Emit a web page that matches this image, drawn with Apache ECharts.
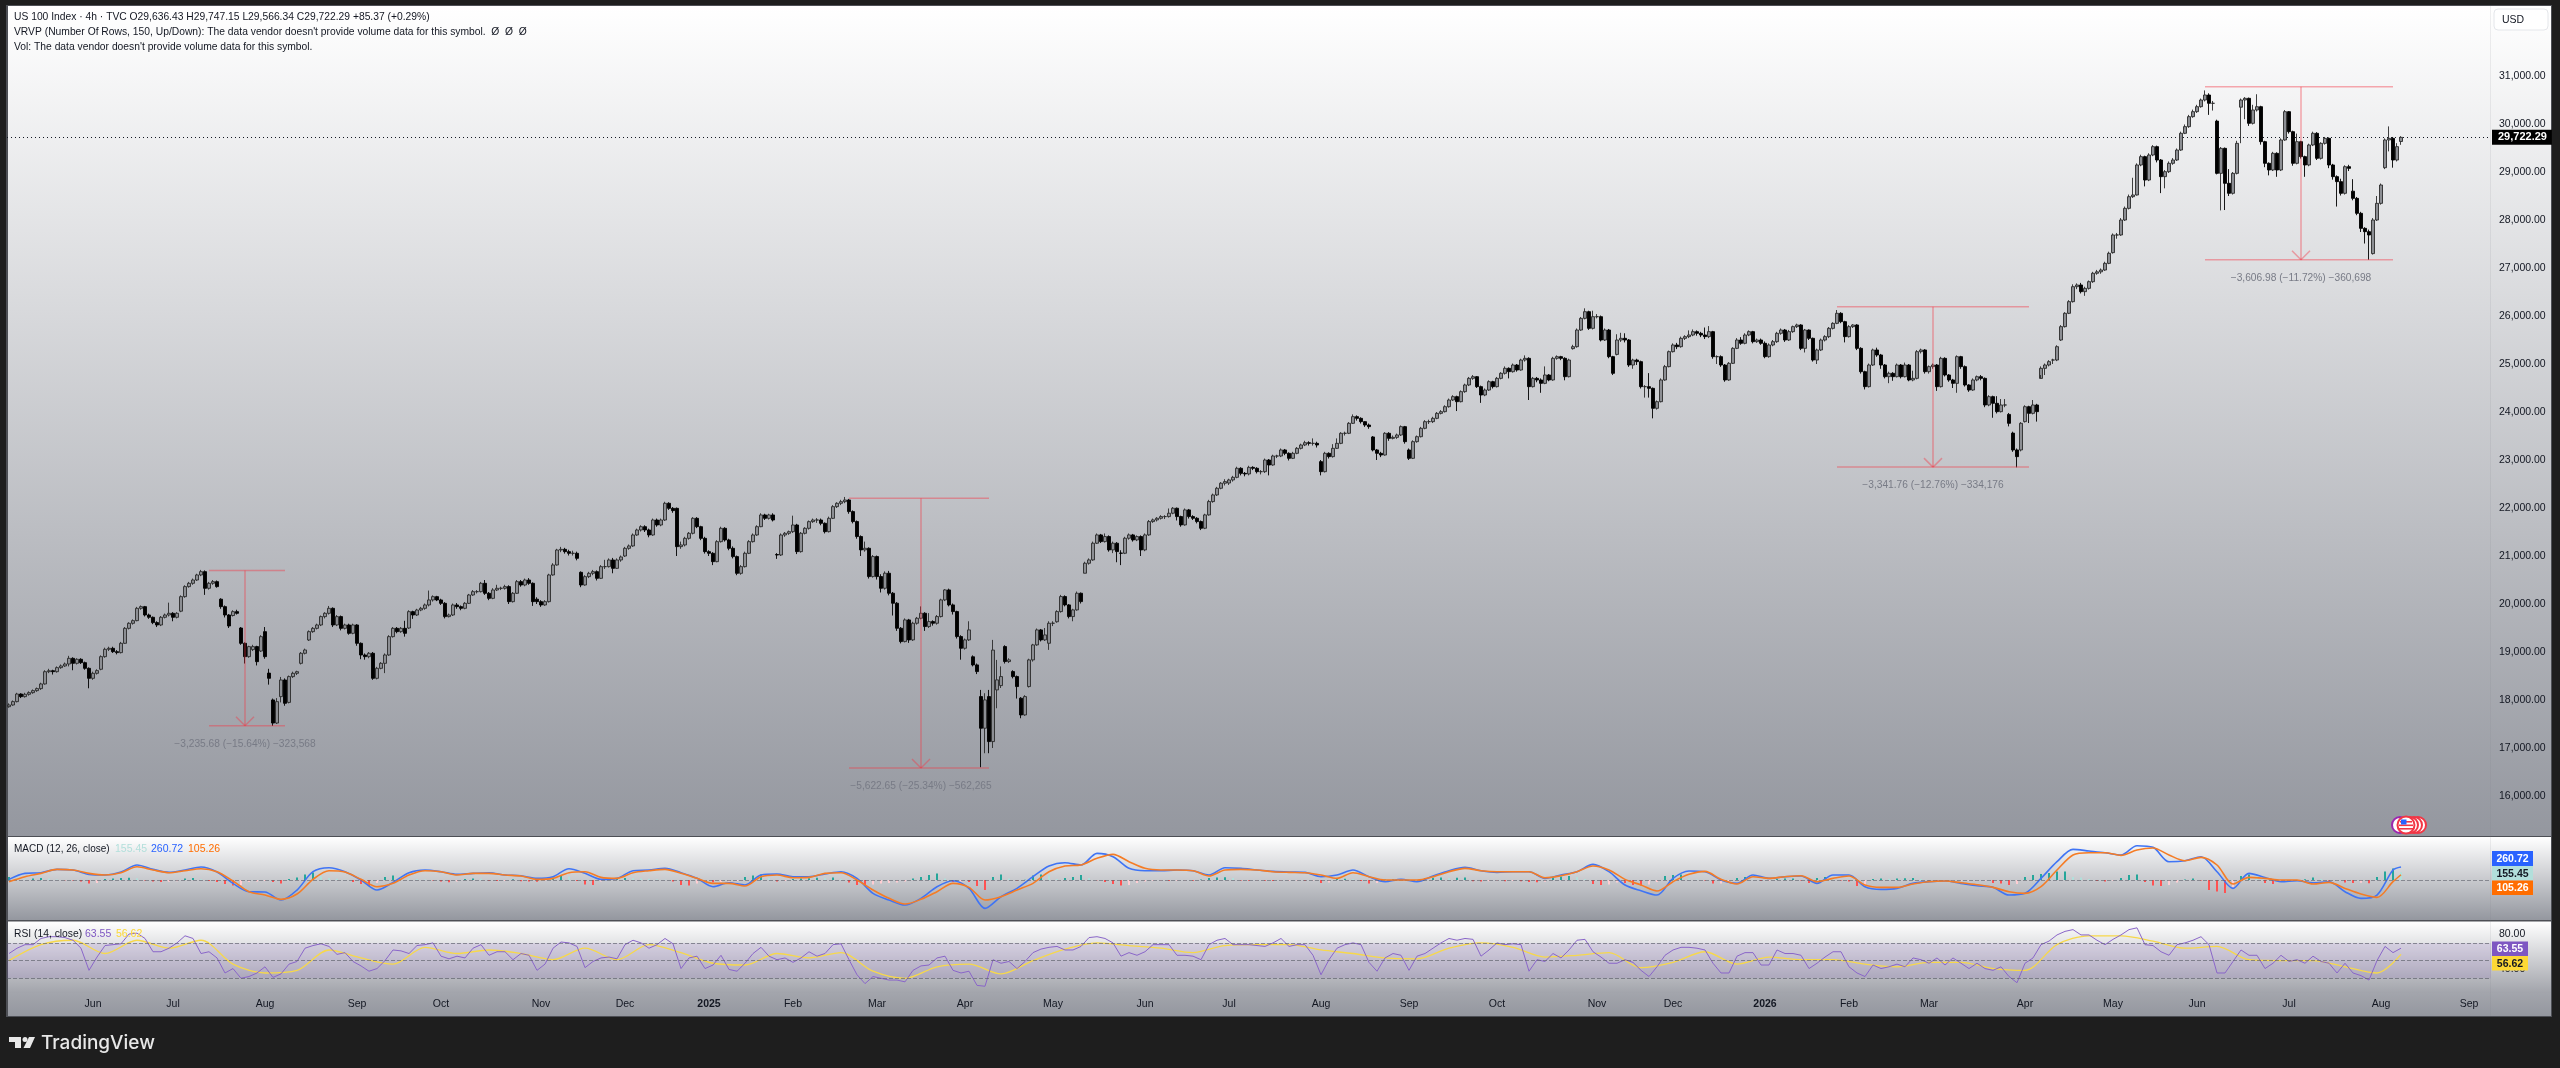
<!DOCTYPE html>
<html><head><meta charset="utf-8"><style>html,body{margin:0;padding:0;background:#1e1e1e}#c{width:2560px;height:1068px}</style>
<script src="https://cdn.jsdelivr.net/npm/echarts@6/dist/echarts.min.js"></script></head><body><div id="c"></div><script>
// each row: open, close, low, high
const barsMay24=[[17860,17896,17840,17930],[17896,17966,17880,17990],[17966,18125,17950,18150],[18125,18070,18040,18140],[18070,18119,18050,18150],[18119,18153,18090,18180],[18153,18195,18130,18220],[18195,18237,18170,18260],[18237,18334,18210,18360],[18334,18590,18320,18620],[18590,18610,18560,18650],[18610,18590,18530,18630],[18590,18674,18570,18700],[18674,18709,18650,18740],[18709,18750,18690,18780],[18750,18868,18700,18920],[18868,18764,18620,18890],[18764,18848,18740,18870],[18848,18778,18750,18870],[18778,18660,18630,18800],[18660,18452,18244,18680]];
const barsJun24=[[18452,18556,18420,18590],[18556,18612,18530,18640],[18640,18903,18620,18930],[18903,19056,18880,19090],[19056,19077,19020,19110],[19077,19007,18980,19110],[19007,18987,18950,19040],[18987,19181,18970,19210],[19181,19493,19170,19520],[19493,19598,19470,19620],[19598,19653,19570,19680],[19653,19910,19640,19940],[19910,19945,19880,19970],[19945,19771,19740,19960],[19771,19723,19690,19800],[19723,19612,19580,19740],[19612,19563,19520,19640],[19563,19723,19540,19750],[19723,19771,19700,19800],[19771,19806,19740,20028]];
const barsJul24=[[19806,19723,19640,19830],[19723,19806,19700,19830],[19850,20153,19830,20180],[20153,20362,20130,20390],[20362,20431,20340,20460],[20431,20500,20400,20530],[20500,20605,20480,20630],[20605,20674,20580,20710],[20674,20327,20190,20700],[20327,20431,20300,20460],[20431,20466,20400,20500],[20466,20362,20340,20490],[20100,19945,19900,20120],[19945,19771,19720,19970],[19771,19542,19500,19790],[19760,19841,19740,19870],[19841,19806,19780,19880],[19500,19181,19150,19520],[19181,18903,18760,19200],[18903,19112,18880,19130],[19050,19112,19020,19150],[19112,18799,18720,19130],[19020,19320,19000,19350]];
const barsAug24=[[19424,18903,18860,19520],[18560,18452,18320,18650],[18001,17520,17459,18030],[17520,17966,17500,18040],[18070,18417,17950,18480],[18417,17931,17880,18450],[17950,18487,17930,18510],[18487,18556,18460,18590],[18556,18590,18520,18610],[18764,18973,18740,19000],[18973,19042,18950,19070],[19250,19424,19230,19450],[19424,19493,19400,19520],[19493,19563,19470,19590],[19563,19737,19540,19760],[19737,19806,19700,19830],[19806,19910,19780,19959],[19910,19563,19520,19930],[19563,19737,19540,19770],[19737,19493,19450,19760],[19493,19563,19470,19590],[19563,19389,19360,19590],[19389,19563,19370,19590]];
const barsSep24=[[19563,19181,19130,19580],[19181,18938,18850,19200],[18938,18903,18840,18970],[18903,18973,18870,19000],[18973,18452,18420,19000],[18452,18660,18430,18690],[18660,18764,18640,18790],[18764,18938,18560,18970],[18938,19320,18920,19350],[19320,19493,19300,19520],[19493,19424,19390,19520],[19424,19493,19400,19520],[19493,19389,19320,19650],[19500,19841,19480,19870],[19841,19771,19690,19860],[19771,19875,19750,19900],[19875,19910,19850,19940],[19910,19980,19880,20010],[19980,20084,19950,20280],[20084,20153,20050,20180],[20153,20084,20060,20170]];
const barsOct24=[[20084,20014,19980,20110],[20014,19737,19700,20040],[19737,19771,19720,19800],[19771,19980,19750,20010],[19980,19945,19900,20020],[19945,19910,19870,19970],[19910,20014,19890,20040],[20014,20188,20000,20210],[20188,20257,20170,20290],[20257,20257,20220,20290],[20257,20431,20240,20460],[20431,20223,20190,20500],[20223,20118,20080,20250],[20118,20292,20100,20330],[20292,20327,20270,20400],[20327,20327,20290,20360],[20327,20362,20300,20400],[20362,20049,20000,20390],[20049,20223,20030,20250],[20223,20466,20210,20500],[20466,20396,20360,20500],[20396,20500,20370,20530],[20500,20431,20400,20540],[20431,20049,19960,20450],[20100,20049,20000,20140]];
const barsNov24=[[20049,19980,19940,20080],[19980,20049,19960,20080],[20049,20605,20030,20630],[20605,20813,20590,20850],[20813,21125,20800,21150],[21125,21139,21080,21190],[21139,21091,21050,21170],[21091,21056,21010,21130],[21056,21056,21010,21110],[21056,20952,20910,21090],[20660,20396,20350,20680],[20396,20570,20380,20600],[20570,20639,20540,20670],[20639,20674,20600,20710],[20674,20535,20490,20700],[20535,20778,20520,20810],[20778,20778,20730,20920],[20778,20917,20760,20950],[20917,20743,20640,20960],[20743,20917,20730,20950],[20917,20980,20880,21010]];
const barsDec24=[[21000,21160,20980,21190],[21160,21209,21130,21240],[21209,21438,21190,21470],[21438,21542,21420,21570],[21542,21611,21510,21640],[21611,21542,21500,21640],[21542,21438,21390,21570],[21438,21750,21420,21780],[21750,21646,21610,21780],[21646,21750,21620,21780],[21750,22098,21730,22130],[22098,21993,21960,22120],[21993,21945,21900,22020],[21993,21195,21000,22010],[21195,21230,21150,21300],[21230,21368,21200,21400],[21368,21473,21340,21500],[21473,21785,21450,21810],[21785,21611,21580,21810],[21611,21368,21330,21630],[21368,21091,21050,21400]];
const barsJan25=[[21091,21056,21000,21120],[21056,20882,20810,21080],[20882,21299,20870,21330],[21299,21577,21280,21610],[21577,21334,21300,21600],[21334,21160,21120,21360],[21160,20987,20950,21200],[20987,20639,20600,21010],[20639,20778,20610,20810],[20778,21056,20760,21090],[21056,21299,21040,21330],[21299,21438,21280,21470],[21438,21611,21420,21640],[21611,21855,21600,21890],[21855,21785,21750,21880],[21785,21855,21760,21880],[21855,21750,21720,21890],[21030,21021,20940,21060],[21021,21438,21000,21470],[21438,21473,21400,21500],[21473,21507,21440,21530]];
const barsFeb25=[[21507,21646,21480,21840],[21646,21091,21040,21670],[21091,21473,21070,21500],[21473,21577,21450,21600],[21577,21716,21550,21740],[21716,21750,21690,21780],[21750,21750,21690,21790],[21750,21681,21640,21780],[21681,21507,21470,21700],[21507,21785,21490,21820],[21785,22028,21770,22060],[22028,22098,22000,22120],[22098,22132,22060,22170],[22132,22167,22100,22230],[22167,21925,21880,22190],[21925,21717,21680,21950],[21717,21405,21360,21740],[21405,21127,21000,21430],[21127,21161,21090,21300],[21161,20571,20530,21180],[20571,20988,20550,21020]];
const barsMar25=[[20988,20571,20510,21010],[20571,20328,20240,20620],[20328,20641,20300,20680],[20641,20224,20180,20690],[20224,20016,19760,20250],[20016,19495,19440,20040],[19495,19217,19180,19520],[19217,19668,19200,19700],[19668,19252,19190,19690],[19252,19599,19230,19630],[19599,19703,19570,19730],[19703,19807,19680,19950],[19807,19530,19440,19830],[19530,19634,19500,19810],[19634,19599,19550,19660],[19599,19738,19570,19770],[19738,20085,19720,20110],[20085,20293,20060,20310],[20293,19981,19950,20320],[19981,19842,19780,20010],[19842,19321,19280,19860],[19321,19078,18840,19350]];
const barsApr25=[[19078,19252,19050,19280],[19252,19460,19230,19640],[18900,18731,18700,18930],[18731,18592,18540,18760],[18071,17412,16599,18210],[17412,18002,16891,18141],[18071,17134,16891,18210],[17134,19040,17000,19252],[18210,18419,17828,18835],[18300,18488,18250,18700],[19113,18801,18760,19140],[18801,18835,18770,18870],[18592,18488,18450,18620],[18488,18280,18030,18510],[18037,17689,17620,18060],[17689,18071,17670,18100],[18280,18835,18260,18860],[18835,19148,18800,19170],[19148,19460,19130,19490],[19460,19252,19220,19480],[19252,19356,19230,19500],[19182,19599,19044,19640]];
const barsMay25=[[19599,19599,19540,19640],[19630,19842,19610,19870],[19842,20155,19820,20190],[20155,19981,19950,20180],[19981,19738,19700,20000],[19738,19877,19640,19900],[19877,20224,19860,20260],[20224,20050,20010,20240],[20641,20849,20640,20880],[20849,20918,20820,20950],[20918,21266,20900,21300],[21266,21439,21250,21470],[21439,21300,21270,21460],[21300,21405,21280,21470],[21405,21127,21090,21430],[21127,21266,21060,21300],[21266,21092,20870,21290],[21060,21057,20810,21120],[21057,21370,21040,21400],[21370,21439,21340,21470],[21439,21335,21300,21460],[21335,21405,21310,21430],[21405,21127,21000,21430]];
const barsJun25=[[21127,21439,21100,21470],[21439,21717,21420,21750],[21717,21752,21690,21780],[21752,21786,21720,21810],[21786,21821,21760,21850],[21821,21821,21770,21850],[21821,21891,21800,21990],[21891,21995,21870,22020],[21995,21821,21740,22010],[21821,21648,21610,21840],[21648,21960,21630,21990],[21960,21821,21780,21980],[21821,21786,21750,21850],[21786,21717,21680,21810],[21717,21578,21540,21740],[21578,21856,21560,21880],[21856,22134,21840,22170],[22134,22272,22110,22300],[22272,22411,22250,22440],[22411,22516,22390,22540],[22516,22550,22470,22600]];
const barsJul25=[[22520,22584,22480,22610],[22584,22639,22550,22670],[22639,22827,22620,22860],[22827,22722,22680,22850],[22722,22709,22660,22750],[22709,22847,22680,22880],[22847,22827,22790,22870],[22827,22757,22720,22850],[22757,22757,22700,22790],[22757,23000,22730,23030],[23000,22896,22680,23020],[22896,23083,22880,23110],[23083,23083,23040,23110],[23083,23209,23060,23240],[23209,23139,23100,23230],[23139,23035,22990,23160],[23035,23139,23020,23170],[23139,23243,23120,23270],[23243,23313,23220,23340],[23313,23361,23290,23400],[23361,23347,23300,23390],[23347,23347,23300,23450],[23347,23313,23260,23380]];
const barsAug25=[[22966,22757,22680,23000],[22757,23139,22740,23170],[23139,23070,23030,23160],[23070,23243,23050,23330],[23243,23347,23230,23450],[23347,23556,23330,23580],[23556,23556,23510,23590],[23556,23764,23540,23790],[23764,23903,23750,23950],[23903,23868,23820,23930],[23868,23799,23760,23890],[23799,23729,23690,23810],[23729,23695,23650,23760],[23480,23209,23180,23500],[23209,23139,23000,23230],[23139,23104,23060,23170],[23104,23556,23090,23580],[23556,23451,23400,23580],[23451,23472,23430,23510],[23472,23521,23440,23550],[23521,23695,23500,23720],[23695,23382,23340,23710]];
const barsSep25=[[23209,23035,23000,23240],[23035,23382,23020,23410],[23382,23486,23360,23510],[23486,23660,23470,23690],[23660,23799,23640,23830],[23799,23799,23750,23840],[23799,23868,23770,23900],[23868,23972,23850,24000],[23972,24007,23950,24040],[24007,24111,23990,24140],[24111,24250,24090,24280],[24250,24320,24230,24350],[24320,24215,24020,24340],[24215,24424,24200,24450],[24424,24563,24400,24590],[24563,24701,24540,24730],[24701,24736,24670,24770],[24736,24528,24500,24750],[24528,24354,24190,24550],[24354,24458,24330,24490],[24458,24632,24440,24660],[24632,24528,24490,24650]];
const barsOct25=[[24528,24701,24510,24730],[24701,24806,24680,24830],[24806,24910,24780,24950],[24910,24840,24700,24930],[24840,24979,24820,25010],[24979,24875,24840,25000],[24875,25083,24860,25110],[25083,25118,25050,25180],[25118,24528,24250,25140],[24528,24701,24510,24730],[24701,24667,24620,24730],[24667,24597,24400,24700],[24597,24771,24580,24950],[24771,24667,24640,24790],[24667,25118,24650,25150],[25118,25153,25090,25180],[25153,25118,25080,25170],[25118,24736,24660,25140],[24736,25083,24720,25110],[25320,25361,25300,25400],[25361,25708,25340,25740],[25708,25951,25690,25980],[25951,26090,25930,26160],[26090,25743,25710,26110],[25743,25986,25720,26110]];
const barsNov25=[[25986,25986,25950,26040],[25986,25500,25470,26010],[25500,25708,25480,25740],[25708,25153,25120,25730],[25153,24806,24770,25170],[25200,25500,25180,25620],[25500,25535,25460,25650],[25535,25500,25450,25640],[25500,24979,24940,25520],[24979,25083,24900,25110],[25083,25049,24980,25110],[25049,24528,24490,25070],[24528,24528,24300,24560],[24528,24493,24300,24810],[24493,24077,23868,24510],[24077,24215,24050,24240],[24215,24667,24200,24700],[24667,24945,24650,24980],[24945,25257,24930,25280]];
const barsDec25=[[25257,25396,25240,25430],[25396,25361,25310,25440],[25361,25535,25340,25570],[25535,25570,25500,25600],[25570,25604,25540,25700],[25604,25674,25580,25720],[25674,25639,25590,25700],[25639,25604,25560,25670],[25604,25570,25520,25760],[25570,25674,25540,25790],[25674,25153,25110,25690],[25153,25153,25000,25180],[25153,24979,24940,25180],[24979,24667,24630,25000],[24667,25014,24650,25040],[25014,25326,25000,25350],[25326,25500,25310,25540],[25500,25431,25400,25560],[25431,25604,25410,25640],[25604,25674,25580,25700],[25674,25465,25430,25690],[25465,25500,25440,25530],[25500,25431,25400,25530]];
const barsJan26=[[25431,25153,25120,25470],[25153,25396,25130,25430],[25396,25465,25370,25500],[25465,25639,25440,25670],[25639,25708,25610,25740],[25708,25500,25460,25730],[25500,25674,25480,25710],[25674,25778,25650,25800],[25778,25813,25750,25840],[25813,25326,25290,25830],[25326,25708,25240,25730],[25708,25535,25500,25720],[25535,25083,25050,25550],[25083,25292,25000,25320],[25292,25500,25270,25530],[25500,25570,25470,25600],[25570,25743,25540,25770],[25743,25847,25720,25870],[25847,26056,25830,26125],[26056,25882,25850,26080],[25882,25570,25450,25900]];
const barsFeb26=[[25570,25778,25550,25810],[25778,25813,25750,25830],[25813,25326,25290,25830],[25326,24840,24800,25350],[24840,24528,24470,24860],[24528,24979,24510,25010],[24979,25292,24960,25320],[25292,25188,25150,25340],[25188,24979,24900,25210],[24979,24736,24700,25000],[24736,24806,24600,24840],[24806,24736,24650,24830],[24736,24979,24720,25010],[24979,24736,24700,25000],[24736,24979,24720,25030],[24979,24667,24640,25000],[24667,24701,24640,24860],[24701,25257,24680,25290],[25257,25292,25220,25320],[25292,24840,24800,25310]];
const barsMar26=[[24840,24945,24800,24970],[24945,24979,24900,25010],[24979,24528,24440,25000],[24528,25118,24510,25150],[25118,24771,24740,25140],[24771,24667,24630,24790],[24667,24597,24500,24690],[24597,25153,24400,25180],[25153,24945,24900,25170],[24945,24563,24530,24970],[24563,24458,24420,24580],[24458,24667,24440,24700],[24667,24736,24640,24760],[24736,24701,24660,24770],[24701,24146,24100,24720],[24146,24320,24120,24350],[24320,24181,23880,24340],[24181,24007,23970,24330],[24007,24146,23990,24270],[24146,24146,24100,24270],[23950,23764,23700,23980],[23560,23209,23170,23590],[23209,23070,22847,23240],[23209,23764,23180,23790]];
const barsApr26=[[23800,24111,23780,24140],[24111,23972,23770,24130],[23972,24146,23950,24250],[24146,24007,23800,24170],[24700,24910,24770,24950],[24910,24979,24770,25010],[24979,25049,24950,25080],[25083,25083,25000,25110],[25083,25361,25060,25390],[25500,25778,25480,25810],[25778,26056,25760,26080],[26056,26299,26040,26330],[26299,26611,26280,26660],[26611,26646,26560,26680],[26646,26507,26470,26690],[26507,26576,26420,26610],[26576,26715,26550,26740],[26715,26890,26690,26920],[26890,26920,26860,26960],[26920,26958,26880,26990],[26958,27097,26940,27130],[27097,27306,27080,27340]];
const barsMay26=[[27320,27688,27300,27720],[27688,27688,27610,27730],[27688,28000,27670,28040],[28000,28243,27980,28280],[28243,28486,28220,28530],[28486,28521,28460,28880],[28521,29146,28510,29180],[29146,29320,29120,29360],[29320,28833,28700,29340],[28833,29354,28810,29390],[29354,29528,29330,29560],[29528,29250,29200,29550],[29250,28903,28560,29270],[28903,29007,28660,29040],[29007,29181,28980,29220],[29181,29250,29150,29290],[29250,29458,29230,29490],[29458,29806,29440,29840],[29806,29945,29790,29990],[29945,30153,29920,30190],[30153,30257,30130,30300]];
const barsJun26=[[30257,30361,30230,30400],[30361,30500,30340,30530],[30500,30604,30470,30700],[30604,30431,30190,30640],[30431,30431,30280,30480],[30060,28972,28950,30090],[28972,29493,28200,29520],[29493,28764,28208,29510],[28764,28556,28500,29060],[28556,28972,28530,29000],[28972,29597,28950,29650],[30350,30500,29600,30530],[30500,30535,30100,30560],[30535,30014,29960,30550],[30014,30292,29990,30400],[30292,30361,30260,30620],[30361,29632,29570,30380],[29632,29181,29100,29650],[29181,29042,28930,29200],[29042,29389,29020,29420],[29389,29042,28900,29410],[29042,29667,29020,29700],[29667,30257,29650,30290]];
const barsJul26=[[30257,29840,29800,30270],[29840,29181,29130,29860],[29181,29632,29160,29800],[29632,29320,29280,29650],[29320,29146,28900,29340],[29146,29563,29120,29590],[29563,29806,29540,29840],[29806,29285,29250,29830],[29285,29597,29260,29620],[29597,29701,29570,29730],[29701,29146,29080,29720],[29146,28903,28840,29170],[28903,28799,28280,28930],[28799,28556,28510,28860],[28556,29111,28530,29140],[29111,29076,29020,29150],[28600,28451,28410,28850],[28451,28139,28100,28480],[28139,27826,27750,28170],[27826,27757,27510,27850],[27757,27688,27171,27800],[27300,28000,27280,28040],[28000,28347,27980,28500]];
const barsAug26=[[28347,28729,28320,28760],[29090,29667,29060,29700],[29667,29701,29430,29950],[29701,29250,29090,29730],[29250,29528,29220,29600],[29636,29722,29566,29747]];
const monthBars=[barsMay24,barsJun24,barsJul24,barsAug24,barsSep24,barsOct24,barsNov24,barsDec24,barsJan25,barsFeb25,barsMar25,barsApr25,barsMay25,barsJun25,barsJul25,barsAug25,barsSep25,barsOct25,barsNov25,barsDec25,barsJan26,barsFeb26,barsMar26,barsApr26,barsMay26,barsJun26,barsJul26,barsAug26];
const monthNames=['','Jun','Jul','Aug','Sep','Oct','Nov','Dec','2025','Feb','Mar','Apr','May','Jun','Jul','Aug','Sep','Oct','Nov','Dec','2026','Feb','Mar','Apr','May','Jun','Jul','Aug'];
const futureLabel='Sep', slotsToFutureLabel=17, totalSlots=621;
const priceTicks={min:15000,max:32000,step:1000};
const lastPrice=29722.29;
// measurement tools: left slot, right slot, arrow slot, top price, bottom price
const measureRows=[[50,69,59,20700,17464],[210,245,228,22205,16582],[457,505,481,26194,22852],[549,596,573,30778,27171]];
const measureTexts=['\u22123,235.68 (\u221215.64%) \u2212323,568','\u22125,622.65 (\u221225.34%) \u2212562,265','\u22123,341.76 (\u221212.76%) \u2212334,176','\u22123,606.98 (\u221211.72%) \u2212360,698'];
// MACD, one reading every 4 slots
const macdLine=[13,133,146,213,200,113,100,160,300,213,153,200,260,160,-67,-234,-241,-401,-201,166,246,166,0,-201,-47,146,200,166,113,133,146,100,86,33,66,226,133,13,33,186,
200,233,146,33,-134,-54,-100,100,120,66,66,120,166,33,-267,-401,-501,-367,-134,-14,-167,-567,-334,-167,66,280,346,300,533,466,233,186,186,200,186,100,246,233,200,173,160,153,66,100,200,66,-34,13,-34,
80,186,253,186,153,166,166,33,100,166,313,166,-100,-214,-301,33,180,166,0,-67,100,33,66,80,-67,100,100,-134,-187,-167,-67,-34,-20,-67,-114,-147,-301,-267,33,366,613,580,546,500,686,653,366,386,466,166,
-168,132,52,-34,-14,-54,-34,-234,-368,-301,199,261];
const signalLine=[-34,66,133,213,200,133,100,146,266,200,146,186,226,166,-20,-234,-301,-387,-281,13,186,160,13,-134,-67,100,186,166,100,133,133,100,80,13,33,146,166,53,33,146,
186,213,133,33,-67,-67,-120,66,100,46,53,133,146,0,-201,-367,-481,-387,-234,-67,-147,-401,-334,-201,-67,166,280,300,433,513,366,233,200,200,186,80,200,213,200,166,153,146,100,33,146,66,0,0,0,
66,166,233,186,166,166,166,46,86,166,280,200,13,-100,-220,-34,113,173,13,-80,66,33,66,86,-34,33,80,-100,-147,-147,-80,-34,-20,-54,-94,-147,-234,-267,-134,200,500,546,546,493,600,640,500,386,453,300,
-81,52,32,-1,-1,-81,-48,-168,-281,-348,-34,105];
// MACD histogram, one reading every 2 slots
const macdHist=[60,50,15,30,40,30,8,-5,-10,-30,-70,-60,20,30,40,45,35,-10,-30,-40,-35,-25,30,40,15,
-20,-40,-80,-110,-100,-40,-30,-20,-40,-70,20,50,110,150,80,40,25,5,-40,-80,-120,-60,60,90,80,
30,20,10,-10,-30,-45,-30,20,30,25,-15,-20,-20,15,-25,-30,-35,-10,50,90,70,-20,-90,-100,-30,
5,20,40,35,30,25,15,5,-30,-100,-110,-70,-40,-45,-40,-30,-20,60,90,110,40,-30,-20,20,30,
35,45,40,50,20,-50,-100,-110,-90,-70,-60,-50,-30,30,60,100,130,30,-40,-30,-40,-120,-200,60,110,
30,-10,5,90,110,100,20,40,60,100,40,-5,-40,-80,-110,-100,-60,-30,-15,-15,-20,-15,-10,-15,10,
40,50,55,40,-10,-15,-10,-15,-20,-15,-15,-10,-15,-10,-60,-50,20,25,20,-20,-70,-60,10,15,20,
15,10,40,45,50,40,45,50,-25,-30,-25,-20,-25,-20,-25,-40,-45,-35,50,70,80,60,20,-80,-100,
-90,-50,-60,-100,-110,-90,-40,80,100,110,30,10,-10,-70,-70,-40,40,60,10,-20,-15,20,30,30,-10,
-60,40,60,30,-10,-30,-120,-110,20,30,25,30,35,40,20,-10,-15,-15,-15,-15,-15,-15,-15,-60,-70,
-100,-80,60,100,120,140,170,170,60,50,20,-20,-30,-15,40,100,110,-40,-110,-120,-100,-50,10,30,-10,
-200,-230,-260,-150,80,110,100,-60,-80,-40,-10,-10,15,50,20,-15,-10,-50,-60,-55,-65,60,170,230,155];
// RSI, one reading every 2 slots
const rsiLine=[58,64,68,68,75,77,77,76,73,64,39,54,67,68,69,80,81,75,60,60,64,70,78,75,58,60,53,36,41,30,32,36,43,31,35,46,49,64,67,69,66,57,59,49,44,38,41,50,62,61,
58,67,68,70,55,52,55,53,64,68,56,60,60,51,58,56,39,46,64,71,70,66,42,49,53,54,52,68,73,70,
64,68,75,69,41,53,55,41,45,56,40,38,47,58,65,55,51,53,48,53,60,55,58,68,69,51,34,24,32,30,28,28,26,39,44,45,53,55,39,36,38,22,21,51,47,49,41,49,59,63,65,66,62,62,66,76,77,75,70,55,59,56,60,68,68,68,56,56,55,51,68,73,75,68,68,68,67,66,70,75,66,68,68,56,34,51,64,68,70,68,48,38,53,58,56,39,55,
58,64,70,75,73,75,74,55,62,70,68,69,68,38,51,49,58,53,62,73,74,60,54,47,47,51,48,39,32,43,56,62,65,65,64,62,47,36,36,55,59,59,45,45,62,58,58,56,41,47,54,60,60,43,36,32,45,41,43,46,43,53,51,47,53,45,53,47,41,47,41,39,43,32,25,47,53,68,72,79,83,85,79,79,73,68,74,79,85,87,68,67,60,56,68,70,73,77,68,36,
36,49,62,56,56,41,47,56,49,51,47,55,49,47,36,47,36,33,28,50,66,59,64];
// RSI moving average, one reading every 8 slots
const rsiMaLine=[50,68,73,58,73,64,73,46,36,39,62,53,46,65,58,62,58,51,64,51,
68,59,47,45,58,53,59,38,30,43,46,35,50,63,70,67,64,59,67,68,68,62,58,53,52,
64,70,65,54,56,59,42,48,60,46,54,51,51,46,43,48,48,41,39,68,78,78,72,64,66,
51,50,50,43,36,57];
const rsiLevels=[70,50,30];
const headerLines=['US 100 Index \u00b7 4h \u00b7 TVC O29,636.43 H29,747.15 L29,566.34 C29,722.29 +85.37 (+0.29%)',"VRVP (Number Of Rows, 150, Up/Down): The data vendor doesn't provide volume data for this symbol.  \u00d8  \u00d8  \u00d8","Vol: The data vendor doesn't provide volume data for this symbol."];

const candles=[].concat(...monthBars);
const categories=new Array(totalSlots).fill('');
let cursor=0;
monthBars.forEach((m,i)=>{categories[cursor]=monthNames[i];cursor+=m.length;});
const lastSlot=candles.length-1;
categories[lastSlot+slotsToFutureLabel]=futureLabel;
const pairs=(arr,step)=>arr.map((v,i)=>[Math.min(i*step,lastSlot),v]);
const histData=macdHist.map((v,i)=>{
  const prev=i?macdHist[i-1]:0;
  const color=v>=0?(v>=prev?'#26a69a':'#b2dfdb'):(v<prev?'#ff5252':'#ffcdd2');
  return {value:[Math.min(i*2,lastSlot),v],itemStyle:{color}};
});
const FONT='"Liberation Sans",Arial,sans-serif', TXT='#131722';
const grad=(a,b)=>({type:'linear',x:0,y:0,x2:0,y2:1,colorStops:[{offset:0,color:a},{offset:1,color:b}]});
const rect=(x,y,w,h,fill,z)=>({type:'rect',silent:true,z:z,shape:{x,y,width:w,height:h},style:{fill}});
const text=(x,y,t,fill,size,weight,align)=>({type:'text',silent:true,z:50,x,y,style:{text:t,fill,font:(weight||'normal')+' '+size+'px '+FONT,textAlign:align||'left',textVerticalAlign:'middle'}});
const tag=(x,y,w,h,bg,fg,t)=>[rect(x,y,w,h,bg,49),text(x+w/2,y+h/2+.5,t,fg,10.5,'bold','center')];
const circle=(cx,cy,r,fill,stroke,lw)=>({type:'circle',silent:true,z:40,shape:{cx,cy,r},style:{fill,stroke,lineWidth:lw||0}});
const graphics=[
 rect(6,5,2546,1012,'#4d4f55',-3),
 rect(8,6,2543,830,grad('#ffffff','#94979f'),-2),
 rect(8,837,2543,83,grad('#ffffff','#94979f'),-2),
 rect(8,921.5,2543,71.5,grad('#ffffff','#a2a4ab'),-2),
 rect(8,993,2543,23,grad('#a3a5ac','#94979f'),-2),
 rect(2490,6,1,1010,'rgba(120,123,134,0.12)',-1),
 {type:'rect',silent:true,z:40,shape:{x:2494,y:9,width:54,height:21,r:4},style:{fill:'rgba(255,255,255,0.9)',stroke:'#e4e6ea',lineWidth:1}},
 text(2502,20,'USD',TXT,10.5),
 text(14,17,headerLines[0],TXT,10.3),text(14,32,headerLines[1],TXT,10.3),text(14,47,headerLines[2],TXT,10.3),
 text(14,849,'MACD (12, 26, close)',TXT,10),text(115,849,'155.45','#b2dfdb',10.5),text(151,849,'260.72','#2962ff',10.5),text(188,849,'105.26','#ff6d00',10.5),
 text(14,934,'RSI (14, close)',TXT,10.3),text(85,934,'63.55','#7e57c2',10.5),text(116,934,'56.62','#fdd835',10.5),
 ...tag(2492,851,41,15,'#2962ff','#fff','260.72'),...tag(2492,866,41,14.5,'#b2dfdb',TXT,'155.45'),...tag(2492,880.5,41,14.5,'#ff6d00','#fff','105.26'),
 ...tag(2492,941.5,36,14.5,'#7e57c2','#fff','63.55'),...tag(2492,956,36,14.5,'#fdd835',TXT,'56.62'),
 circle(2418,825,8,'#fff','#f23645',2),circle(2414,825,8,'#fff','#f23645',2),circle(2410,825,8,'#fff','#f23645',2),
 circle(2400,825,8,'#fff','#9c27b0',2),circle(2406,825,8.5,'#fff','#f23645',2),
 rect(2400,821,12,1.6,'#f23645',41),rect(2399,824.5,14,1.6,'#f23645',41),rect(2399,828,14,1.6,'#f23645',41),rect(2401,819.5,5.5,5,'#2962ff',42),
 {type:'polygon',silent:true,z:40,shape:{points:[[9,1037],[21,1037],[21,1048],[15,1048],[15,1042],[9,1042]]},style:{fill:'#e8e8e8'}},
 circle(25,1039.5,2.5,'#e8e8e8'),
 {type:'polygon',silent:true,z:40,shape:{points:[[29,1037],[35,1037],[30,1048],[23.5,1048]]},style:{fill:'#e8e8e8'}},
 {type:'text',silent:true,z:50,x:41,y:1043,style:{text:'TradingView',fill:'#e8e8e8',font:'500 19px Inter,sans-serif',textVerticalAlign:'middle'}}
];
const hiddenX=(g)=>({type:'category',gridIndex:g,data:categories,boundaryGap:true,axisLine:{show:false},axisTick:{show:false},axisLabel:{show:false},splitLine:{show:false}});
const chart=echarts.init(document.getElementById('c'),null,{renderer:'canvas',width:2560,height:1068});
chart.setOption({
 animation:false,backgroundColor:'#1e1e1e',
 graphic:{elements:graphics},
 grid:[{left:7,width:2484,top:28,height:816},{left:7,width:2484,top:837,height:83},{left:7,width:2484,top:922,height:71}],
 xAxis:[hiddenX(0),hiddenX(1),Object.assign(hiddenX(2),{axisLabel:{show:true,interval:0,margin:6,color:TXT,fontFamily:FONT,fontSize:10.5,hideOverlap:false,
   formatter:v=>/^20/.test(v)?'{y|'+v+'}':v,rich:{y:{fontWeight:'bold',color:TXT,fontFamily:FONT,fontSize:10.5}}}})],
 yAxis:[
  {type:'value',gridIndex:0,position:'right',min:priceTicks.min,max:priceTicks.max,interval:priceTicks.step,axisLine:{show:false},axisTick:{show:false},splitLine:{show:false},
   axisLabel:{margin:8,color:TXT,fontFamily:FONT,fontSize:10.5,formatter:v=>(v===priceTicks.min||v===priceTicks.max)?'':v.toLocaleString('en-US',{minimumFractionDigits:2})}},
  {type:'value',gridIndex:1,position:'right',min:-800,max:860,axisLine:{show:false},axisTick:{show:false},splitLine:{show:false},axisLabel:{show:false}},
  {type:'value',gridIndex:2,position:'right',min:13.4,max:93.6,axisLine:{show:false},axisTick:{show:false},splitLine:{show:false},
   axisLabel:{margin:8,color:TXT,fontFamily:FONT,fontSize:10.5,customValues:[40,80],formatter:v=>v.toFixed(2)}}
 ],
 series:[
  {type:'candlestick',name:'US 100',xAxisIndex:0,yAxisIndex:0,data:candles,barWidth:2.6,z:5,
   itemStyle:{color:'#8c8e93',color0:'#000',borderColor:'#2a2a2a',borderColor0:'#000',borderWidth:0.9},
   markLine:{silent:true,symbol:'none',animation:false,data:[{yAxis:lastPrice}],lineStyle:{type:[1,3],color:'#131722',width:1},
    label:{position:'end',formatter:'29,722.29',distance:1,color:'#fff',backgroundColor:'#000',fontWeight:'bold',fontFamily:FONT,fontSize:11,padding:[2,5,2,6]}}},
  {type:'custom',name:'Measures',xAxisIndex:0,yAxisIndex:0,z:6,silent:true,clip:false,data:measureRows,encode:{x:[0,1,2],y:[3,4]},
   renderItem:(params,api)=>{
    const tl=api.coord([api.value(0),api.value(3)]),tr=api.coord([api.value(1),api.value(3)]),
          bl=api.coord([api.value(0),api.value(4)]),br=api.coord([api.value(1),api.value(4)]),
          ct=api.coord([api.value(2),api.value(3)]),cb=api.coord([api.value(2),api.value(4)]);
    const st={stroke:'rgba(242,54,69,0.42)',lineWidth:1.5,fill:null};
    const ln=(a,b,c,d)=>({type:'line',shape:{x1:a,y1:b,x2:c,y2:d},style:st});
    return {type:'group',children:[ln(tl[0],tl[1],tr[0],tr[1]),ln(bl[0],bl[1],br[0],br[1]),ln(ct[0],ct[1],cb[0],cb[1]),
      ln(cb[0]-9,cb[1]-9,cb[0],cb[1]),ln(cb[0]+9,cb[1]-9,cb[0],cb[1]),
      {type:'text',style:{text:measureTexts[params.dataIndex],x:cb[0],y:cb[1]+18.5,fill:'#787b86',font:'10.2px '+FONT,textAlign:'center',textVerticalAlign:'middle'}}]};
   }},
  {type:'bar',name:'Histogram',xAxisIndex:1,yAxisIndex:1,data:histData,barWidth:2,z:3,
   markLine:{silent:true,symbol:'none',animation:false,label:{show:false},data:[{yAxis:0}],lineStyle:{type:'dashed',color:'rgba(90,93,104,0.6)',width:1}}},
  {type:'line',name:'MACD',xAxisIndex:1,yAxisIndex:1,data:pairs(macdLine,4),smooth:0.3,showSymbol:false,z:4,lineStyle:{color:'#3f74f5',width:1.6}},
  {type:'line',name:'Signal',xAxisIndex:1,yAxisIndex:1,data:pairs(signalLine,4),smooth:0.3,showSymbol:false,z:5,lineStyle:{color:'#f57c25',width:1.6}},
  {type:'line',name:'RSI',xAxisIndex:2,yAxisIndex:2,data:pairs(rsiLine,2),showSymbol:false,z:4,lineStyle:{color:'#8a66c9',width:1},
   markArea:{silent:true,animation:false,itemStyle:{color:'rgba(126,87,194,0.14)'},data:[[{yAxis:rsiLevels[0]},{yAxis:rsiLevels[2]}]]},
   markLine:{silent:true,symbol:'none',animation:false,label:{show:false},data:rsiLevels.map(v=>({yAxis:v})),lineStyle:{type:'dashed',color:'rgba(90,93,104,0.65)',width:1}}},
  {type:'line',name:'RSI MA',xAxisIndex:2,yAxisIndex:2,data:pairs(rsiMaLine,8),smooth:0.3,showSymbol:false,z:3,lineStyle:{color:'#f7d84a',width:1.3}}
 ]
});
</script></body></html>
